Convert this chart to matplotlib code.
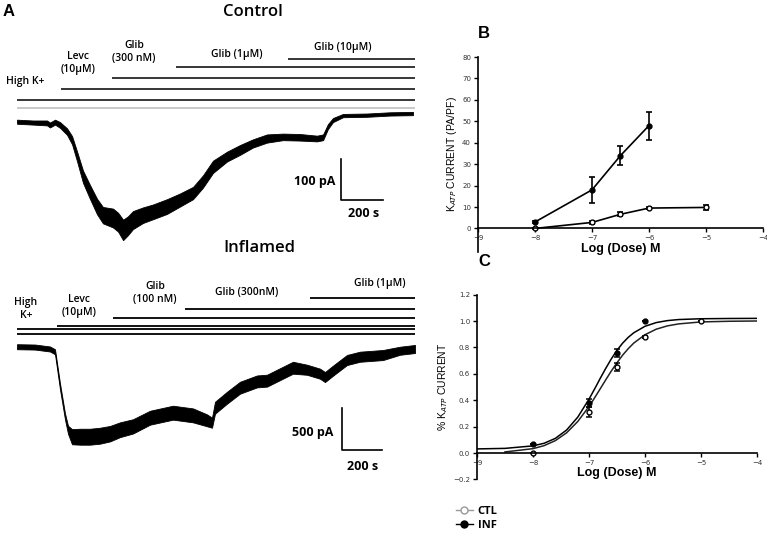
import matplotlib
matplotlib.use('Agg')
import matplotlib.pyplot as plt
from matplotlib.lines import Line2D

W, H = 767, 541

# ---- panel A: whole-cell traces (time s, current pA) ----
ctl_t = [0, 76, 143, 157, 181, 205, 238, 262, 286, 314, 347, 381, 409, 457, 481, 505, 528, 552,
         600, 647, 714, 776, 838, 885, 933, 1000, 1061, 1123, 1190, 1266, 1347, 1428, 1457, 1480,
         1504, 1552, 1666, 1775, 1885]
ctl_i = [0, -2, -3, -8, -1, -8, -24, -45, -85, -134, -171, -207, -228, -235, -245, -264, -254, -240,
         -228, -220, -207, -191, -174, -146, -110, -85, -69, -53, -41, -37, -38, -41, -38, -12,
         4, 15, 16, 19, 20]
ctl_noise = [5, 5, 6, 6, 6, 7, 8, 10, 12, 15, 17, 19, 20, 23, 23, 25, 23, 22,
             19, 18, 18, 16, 15, 15, 15, 12, 12, 10, 10, 8, 8, 7, 7, 6,
             5, 4, 4, 4, 4]

inf_t = [0, 90, 165, 190, 215, 240, 255, 275, 315, 365, 415, 465, 515, 580, 665, 780, 880, 950,
         975, 990, 1050, 1115, 1200, 1250, 1330, 1380, 1450, 1515, 1540, 1580, 1650, 1715, 1830,
         1915, 1990]
inf_i = [0, -4, -27, -60, -473, -830, -988, -1071, -1071, -1071, -1059, -1035, -988, -948, -845,
         -785, -817, -876, -904, -726, -607, -488, -413, -404, -309, -250, -274, -321, -361, -285,
         -158, -119, -99, -48, -27]
inf_noise = [30, 30, 30, 30, 36, 36, 48, 90, 95, 95, 95, 92, 88, 85, 83, 83, 83, 71,
             60, 71, 71, 71, 71, 71, 71, 71, 60, 60, 60, 60, 60, 60, 60, 48, 48]

ctl_drugs = ['High K+', 'Levc\n(10μM)', 'Glib\n(300 nM)', 'Glib (1μM)', 'Glib (10μM)']
ctl_bar_start = [0, 0, 209, 452, 757, 1290]
ctl_end = 1894
inf_drugs = ['High\nK+', 'Levc\n(10μM)', 'Glib\n(100 nM)', 'Glib (300nM)', 'Glib (1μM)']
inf_bar_start = [0, 0, 200, 480, 840, 1465]
inf_end = 1990

# ---- panel B: KATP current density ----
b_dose_inf = [-8, -7, -6.5, -6]
b_inf = [3, 18, 34, 48]
b_inf_err = [0.5, 6, 4.5, 6.5]
b_dose_ctl = [-8, -7, -6.5, -6, -5]
b_ctl = [0, 2.8, 6.6, 9.5, 9.8]
b_ctl_err = [0.3, 0.6, 1.0, 0.6, 1.0]

# ---- panel C: normalised current + fitted curves ----
c_dose_inf = [-8, -7, -6.5, -6]
c_inf = [0.07, 0.38, 0.755, 1.0]
c_inf_err = [0.0, 0.03, 0.03, 0.0]
c_dose_ctl = [-8, -7, -6.5, -6, -5]
c_ctl = [0.0, 0.31, 0.65, 0.88, 1.0]
c_ctl_err = [0.0, 0.04, 0.03, 0.01, 0.0]
fit_x = [-9, -8.5, -8, -7.8, -7.6, -7.4, -7.2, -7.0, -6.9, -6.8, -6.7, -6.6, -6.5, -6.4, -6.3,
         -6.2, -6.0, -5.8, -5.6, -5.4, -5.0, -4.5, -4.0]
fit_inf = [0.031, 0.035, 0.054, 0.074, 0.111, 0.174, 0.272, 0.408, 0.485, 0.565, 0.642, 0.714,
           0.778, 0.832, 0.876, 0.911, 0.960, 0.988, 1.003, 1.011, 1.017, 1.019, 1.02]
fit_x_ctl = fit_x[1:]
fit_ctl = [0.008, 0.033, 0.056, 0.094, 0.153, 0.239, 0.352, 0.418, 0.486, 0.555, 0.622,
           0.684, 0.741, 0.790, 0.833, 0.896, 0.938, 0.963, 0.978, 0.993, 0.998, 1.0]


def box(x0, y0, x1, y1):
    return [x0 / W, 1 - y1 / H, (x1 - x0) / W, (y1 - y0) / H]


fig = plt.figure(figsize=(W / 100, H / 100), dpi=100)
afont = 'Open Sans'

# control trace
ax1 = fig.add_axes(box(0, 0, 430, 250))
ax1.set_xlim(-81, 1966)
ax1.set_ylim(-313, 297)
ax1.axis('off')
lo = [a - b for a, b in zip(ctl_i, ctl_noise)]
hi = [a + b for a, b in zip(ctl_i, ctl_noise)]
ax1.fill_between(ctl_t, lo, hi, color='black', lw=0.6)
bar_y = [34, 53, 80, 107, 133, 153]
for k, (s, y) in enumerate(zip(ctl_bar_start, bar_y)):
    ax1.plot([s, ctl_end], [y, y], color='#bbbbbb' if k == 0 else 'black', lw=1.1,
             solid_capstyle='butt')
lab_xy = [(38, 97), (290, 143), (557, 170), (1047, 163), (1552, 180)]
for txt, (x, y) in zip(ctl_drugs, lab_xy):
    ax1.text(x, y, txt, ha='center', va='center', fontsize=7.5, family=afont,
             fontweight='semibold', linespacing=1.25)
ax1.text(1123, 268, 'Control', ha='center', va='center', fontsize=12, family=afont,
         fontweight='semibold')
ax1.plot([1542, 1542, 1742], [-91, -191, -191], color='black', lw=1.2)
ax1.text(1514, -147, '100 pA', ha='right', va='center', fontsize=9, family=afont, fontweight='bold')
ax1.text(1652, -225, '200 s', ha='center', va='center', fontsize=9, family=afont, fontweight='bold')

# inflamed trace
ax2 = fig.add_axes(box(0, 240, 430, 541))
ax2.set_xlim(-85, 2065)
ax2.set_ylim(-2312, 1270)
ax2.axis('off')
lo = [a - b for a, b in zip(inf_i, inf_noise)]
hi = [a + b for a, b in zip(inf_i, inf_noise)]
ax2.fill_between(inf_t, lo, hi, color='black', lw=0.6)
bar_y = [157, 205, 246, 345, 445, 583]
for s, y in zip(inf_bar_start, bar_y):
    ax2.plot([s, inf_end], [y, y], color='black', lw=1.3, solid_capstyle='butt')
lab_xy = [(45, 445), (310, 484), (690, 639), (1150, 643), (1815, 758)]
for txt, (x, y) in zip(inf_drugs, lab_xy):
    ax2.text(x, y, txt, ha='center', va='center', fontsize=7.5, family=afont,
             fontweight='semibold', linespacing=1.25)
ax2.text(1210, 1175, 'Inflamed', ha='center', va='center', fontsize=12, family=afont,
         fontweight='semibold')
ax2.plot([1625, 1625, 1825], [-729, -1229, -1229], color='black', lw=1.2)
ax2.text(1580, -1015, '500 pA', ha='right', va='center', fontsize=9, family=afont, fontweight='bold')
ax2.text(1730, -1420, '200 s', ha='center', va='center', fontsize=9, family=afont, fontweight='bold')

fig.text(3 / W, 1 - 12 / H, 'A', fontsize=12, fontweight='bold', va='center', family='Liberation Sans')
fig.text(478 / W, 1 - 33 / H, 'B', fontsize=12, fontweight='bold', va='center', family='Liberation Sans')
fig.text(478 / W, 1 - 262 / H, 'C', fontsize=12, fontweight='bold', va='center', family='Liberation Sans')


def dose_axes(ax):
    for s in ['top', 'right']:
        ax.spines[s].set_visible(False)
    ax.spines['bottom'].set_position(('data', 0))
    ax.spines['left'].set_linewidth(1.2)
    ax.spines['bottom'].set_linewidth(1.2)
    ax.set_xlim(-9, -4)
    ax.set_xticks([-9, -8, -7, -6, -5, -4])
    ax.tick_params(labelsize=5, length=3, width=1, colors='black', labelcolor='#333333', pad=2)
    ax.set_xlabel('Log (Dose) M', fontsize=9, fontweight='bold', family='Liberation Sans',
                  labelpad=1)
    ax.patch.set_alpha(0)


# panel B
axb = fig.add_axes(box(478, 57, 763, 252))
axb.errorbar(b_dose_inf, b_inf, yerr=b_inf_err, color='black', lw=1.2, marker='o', ms=3.5,
             capsize=2.5, elinewidth=1.2, capthick=1.2)
axb.errorbar(b_dose_ctl, b_ctl, yerr=b_ctl_err, color='black', lw=1.2, marker='o', ms=3.5,
             mfc='white', mec='black', capsize=2.5, elinewidth=1.2, capthick=1.2)
axb.set_ylim(-11, 80)
axb.set_yticks(range(0, 81, 10))
dose_axes(axb)
axb.set_ylabel('K$_{ATP}$ CURRENT (PA/PF)', fontsize=7.5, family='Liberation Sans', labelpad=2)

# panel C
axc = fig.add_axes(box(477, 294.6, 757, 479.4))
axc.plot(fit_x, fit_inf, color='black', lw=1.1)
axc.plot(fit_x_ctl, fit_ctl, color='#222222', lw=1.1)
axc.errorbar(c_dose_inf, c_inf, yerr=c_inf_err, color='black', ls='none', marker='o', ms=3.5,
             capsize=2.5, elinewidth=1.1, capthick=1.1)
axc.errorbar(c_dose_ctl, c_ctl, yerr=c_ctl_err, color='black', ls='none', marker='o', ms=3.5,
             mfc='white', mec='black', capsize=2.5, elinewidth=1.1, capthick=1.1)
axc.set_ylim(-0.2, 1.2)
axc.set_yticks([-0.2, 0.0, 0.2, 0.4, 0.6, 0.8, 1.0, 1.2])
dose_axes(axc)
axc.set_ylabel('% K$_{ATP}$ CURRENT', fontsize=7.5, family='Liberation Sans', labelpad=2)

handles = [Line2D([], [], color='#999999', marker='o', mfc='white', mec='#999999', ms=5, lw=1),
           Line2D([], [], color='black', marker='o', ms=5, lw=1)]
fig.legend(handles, ['CTL', 'INF'], loc='upper left', bbox_to_anchor=(450 / W, 1 - 500 / H),
           frameon=False, prop={'family': afont, 'weight': 'bold', 'size': 8},
           handlelength=1.6, handletextpad=0.4, labelspacing=0.3, borderpad=0)

fig.savefig('out.png', dpi=100)
